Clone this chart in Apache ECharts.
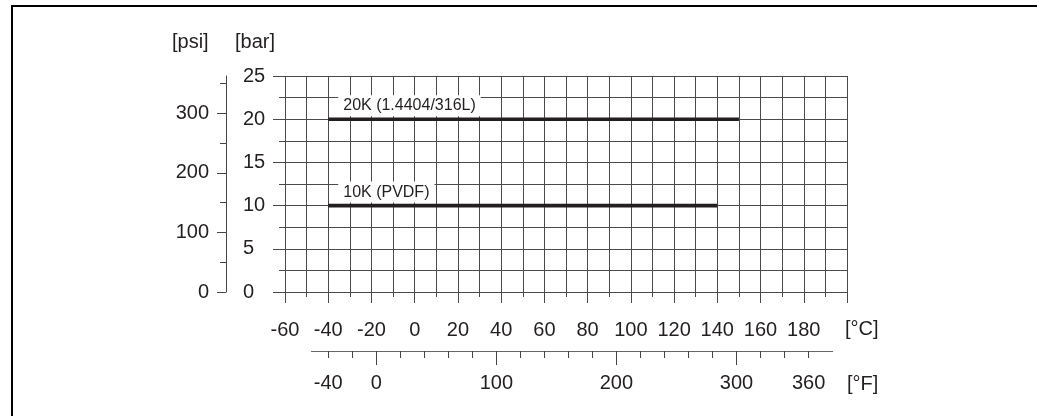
<!DOCTYPE html>
<html>
<head>
<meta charset="utf-8">
<style>
  html, body { margin: 0; padding: 0; background: #fff; }
  #chart { width: 1037px; height: 416px; }
</style>
<script src="https://cdn.jsdelivr.net/npm/echarts@6/dist/echarts.min.js"></script>
</head>
<body>
<div id="chart"></div>
<script>
  // 数据：两条额定压力线
  var seriesNames = ['20K (1.4404/316L)', '10K (PVDF)'];
  var pressureBar = [20, 10];
  var tempFrom = [-40, -40];
  var tempTo = [150, 140];

  // 刻度
  var celsiusRange = [-60, 200];
  var barRange = [0, 25];
  var psiMajor = [0, 100, 200, 300];
  var psiMinor = [50, 150, 250, 350];
  var fahrenheitRange = [-54, 380];
  var fahrenheitMajor = [0, 100, 200, 300];
  var fahrenheitMinor = [-40, -20, 20, 40, 60, 80, 120, 140, 160, 180, 220, 240, 260, 280, 320, 340, 360];
  var fahrenheitLabels = [-40, 0, 100, 200, 300, 360];

  var BAR_TO_PSI = 14.5038;

  var chart = echarts.init(document.getElementById('chart'));

  // 位置
  var plotLeft = 285, plotTop = 76, plotWidth = 562, plotHeight = 216;
  var pxPerC = plotWidth / (celsiusRange[1] - celsiusRange[0]);
  function fToX(f) {
    return plotLeft + ((f - 32) / 1.8 - celsiusRange[0]) * pxPerC;
  }
  var fLeft = fToX(fahrenheitRange[0]);
  var fRight = fToX(fahrenheitRange[1]);

  var gridColor = '#4a4a4a';
  var textColor = '#231f20';
  var font = 'Liberation Sans';

  var series = seriesNames.map(function (name, i) {
    return {
      name: name,
      type: 'line',
      xAxisIndex: 0,
      yAxisIndex: 0,
      symbol: 'circle',
      symbolSize: 0,
      lineStyle: { color: '#231f20', width: 3.6 },
      itemStyle: { color: '#231f20' },
      z: 5,
      data: [{
          value: [tempFrom[i], pressureBar[i]],
          label: {
            show: true,
            formatter: '{a}',
            position: 'top',
            align: 'left',
            distance: 3,
            offset: [10, 0],
            fontSize: 16,
            fontFamily: font,
            color: textColor,
            backgroundColor: '#fff',
            padding: [2, 5, 2, 5],
            lineHeight: 17
          }
        },
        [tempTo[i], pressureBar[i]]
      ]
    };
  });

  var option = {
    animation: false,
    grid: [{
        left: plotLeft, top: plotTop, width: plotWidth, height: plotHeight
      },
      {
        left: fLeft, top: 340, width: fRight - fLeft, height: 11
      }
    ],
    // x轴
    xAxis: [{
        gridIndex: 0,
        type: 'value',
        position: 'bottom',
        min: celsiusRange[0],
        max: celsiusRange[1],
        interval: 20,
        axisLine: { show: true, onZero: false, lineStyle: { color: gridColor, width: 1 } },
        axisTick: { show: true, length: 11, lineStyle: { color: gridColor } },
        minorTick: { show: true, splitNumber: 2, length: 5, lineStyle: { color: gridColor } },
        splitLine: { show: true, lineStyle: { color: gridColor, width: 1 } },
        minorSplitLine: { show: true, lineStyle: { color: gridColor, width: 1 } },
        axisLabel: {
          margin: 28, fontSize: 20, fontFamily: font, color: textColor,
          showMaxLabel: false
        }
      },
      {
        // °F 主刻度
        gridIndex: 1,
        type: 'value',
        position: 'bottom',
        min: fahrenheitRange[0],
        max: fahrenheitRange[1],
        axisLine: { show: true, onZero: false, lineStyle: { color: '#666', width: 1 } },
        axisTick: { show: true, customValues: fahrenheitMajor, length: 14, lineStyle: { color: '#444' } },
        splitLine: { show: false },
        axisLabel: {
          customValues: fahrenheitLabels,
          margin: 22, fontSize: 20, fontFamily: font, color: textColor
        }
      },
      {
        // °F 次刻度
        gridIndex: 1,
        type: 'value',
        position: 'bottom',
        min: fahrenheitRange[0],
        max: fahrenheitRange[1],
        axisLine: { show: false, onZero: false },
        axisTick: { show: true, customValues: fahrenheitMinor, length: 7, lineStyle: { color: '#444' } },
        splitLine: { show: false },
        axisLabel: { show: false }
      }
    ],
    // y轴
    yAxis: [{
        gridIndex: 0,
        type: 'value',
        position: 'left',
        min: barRange[0],
        max: barRange[1],
        interval: 5,
        axisLine: { show: false, onZero: false },
        axisTick: { show: true, length: 12, lineStyle: { color: gridColor } },
        minorTick: { show: true, splitNumber: 2, length: 6, lineStyle: { color: gridColor } },
        splitLine: { show: true, lineStyle: { color: gridColor, width: 1 } },
        minorSplitLine: { show: true, lineStyle: { color: gridColor, width: 1 } },
        axisLabel: {
          margin: 42, align: 'left', fontSize: 20, fontFamily: font, color: textColor
        }
      },
      {
        // psi 主刻度
        gridIndex: 0,
        type: 'value',
        position: 'left',
        offset: 59,
        min: 0,
        max: barRange[1] * BAR_TO_PSI,
        axisLine: { show: true, onZero: false, lineStyle: { color: '#444', width: 1 } },
        axisTick: { show: true, customValues: psiMajor, length: 9, lineStyle: { color: '#444' } },
        splitLine: { show: false },
        axisLabel: {
          customValues: psiMajor,
          margin: 17, fontSize: 20, fontFamily: font, color: textColor
        }
      },
      {
        // psi 次刻度
        gridIndex: 0,
        type: 'value',
        position: 'left',
        offset: 59,
        min: 0,
        max: barRange[1] * BAR_TO_PSI,
        axisLine: { show: false, onZero: false },
        axisTick: { show: true, customValues: psiMinor, length: 6, lineStyle: { color: '#444' } },
        splitLine: { show: false },
        axisLabel: { show: false }
      },
      {
        gridIndex: 1,
        type: 'value',
        show: false
      }
    ],
    // 单位和外框
    graphic: [{
        type: 'rect',
        shape: { x: 12, y: 6, width: 1100, height: 500 },
        style: { fill: 'none', stroke: '#000', lineWidth: 2 }
      },
      { type: 'text', x: 172, y: 42, style: { text: '[psi]', font: '20px "Liberation Sans"', fill: textColor, verticalAlign: 'middle' } },
      { type: 'text', x: 235, y: 42, style: { text: '[bar]', font: '20px "Liberation Sans"', fill: textColor, verticalAlign: 'middle' } },
      { type: 'text', x: 845, y: 329, style: { text: '[°C]', font: '20px "Liberation Sans"', fill: textColor, verticalAlign: 'middle' } },
      { type: 'text', x: 847, y: 384, style: { text: '[°F]', font: '20px "Liberation Sans"', fill: textColor, verticalAlign: 'middle' } }
    ],
    series: series
  };

  chart.setOption(option);
</script>
</body>
</html>
